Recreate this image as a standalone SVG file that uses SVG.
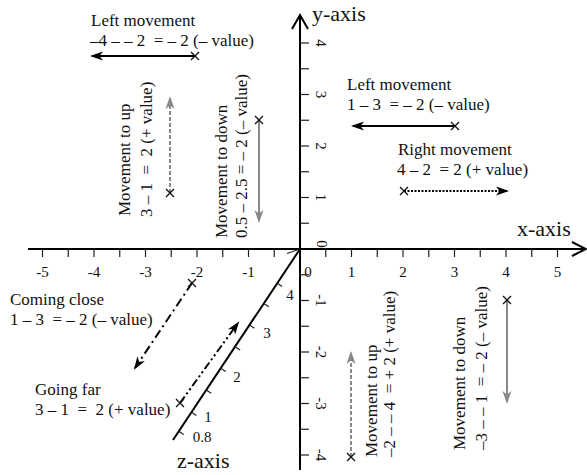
<svg xmlns="http://www.w3.org/2000/svg" width="587" height="475" viewBox="0 0 587 475">
<style>
text{font-family:"Liberation Serif","Times New Roman",serif;fill:#111;white-space:pre}
.lb{font-size:17px}
.ax{font-size:22px}
.num{font-size:15px}
.axis{stroke:#000;stroke-width:2;fill:none}
.tk{stroke:#222;stroke-width:1.2}
.blk{stroke:#000;stroke-width:2;fill:none}
.gry{stroke:#888;stroke-width:2;fill:none}
.xm{stroke:#111;stroke-width:1.3}
</style>
<defs>
<marker id="ahb" markerUnits="userSpaceOnUse" markerWidth="14" markerHeight="10" refX="11" refY="5" orient="auto"><path d="M0,0.5 L13,5 L0,9.5 L3.5,5 z" fill="#000"/></marker>
<marker id="ahg" markerUnits="userSpaceOnUse" markerWidth="14" markerHeight="10" refX="11" refY="5" orient="auto"><path d="M0,0.5 L13,5 L0,9.5 L3.5,5 z" fill="#888"/></marker>
</defs>
<rect width="587" height="475" fill="#fff"/>
<g id="axes">
<g id="x-axis">
<line class="axis" x1="28" y1="249" x2="585" y2="249"/>
<polyline class="axis" points="572,242 586,249 572,256"/>
<g class="tk">
<line x1="42.5" y1="249" x2="42.5" y2="257"/><line x1="68.25" y1="249" x2="68.25" y2="257"/><line x1="94" y1="249" x2="94" y2="257"/><line x1="119.75" y1="249" x2="119.75" y2="257"/><line x1="145.5" y1="249" x2="145.5" y2="257"/><line x1="171.25" y1="249" x2="171.25" y2="257"/><line x1="197" y1="249" x2="197" y2="257"/><line x1="222.75" y1="249" x2="222.75" y2="257"/><line x1="248.5" y1="249" x2="248.5" y2="257"/><line x1="274.25" y1="249" x2="274.25" y2="257"/>
<line x1="325.75" y1="249" x2="325.75" y2="257"/><line x1="351.5" y1="249" x2="351.5" y2="257"/><line x1="377.25" y1="249" x2="377.25" y2="257"/><line x1="403" y1="249" x2="403" y2="257"/><line x1="428.75" y1="249" x2="428.75" y2="257"/><line x1="454.5" y1="249" x2="454.5" y2="257"/><line x1="480.25" y1="249" x2="480.25" y2="257"/><line x1="506" y1="249" x2="506" y2="257"/><line x1="531.75" y1="249" x2="531.75" y2="257"/><line x1="557.5" y1="249" x2="557.5" y2="257"/>
</g>
<g class="num" text-anchor="middle">
<text x="42.5" y="277">-5</text><text x="94" y="277">-4</text><text x="145.5" y="277">-3</text><text x="197" y="277">-2</text><text x="248.5" y="277">-1</text><text x="308" y="277">0</text><text x="351.5" y="277">1</text><text x="403" y="277">2</text><text x="454.5" y="277">3</text><text x="506" y="277">4</text><text x="557.5" y="277">5</text>
</g>
<text class="ax" x="517" y="236">x-axis</text>
</g>
<g id="y-axis">
<line class="axis" x1="300" y1="16" x2="300" y2="470"/>
<polyline class="axis" points="292,29 300,15 308,29"/>
<g class="tk">
<line x1="301" y1="43" x2="309" y2="43"/><line x1="301" y1="68.75" x2="309" y2="68.75"/><line x1="301" y1="94.5" x2="309" y2="94.5"/><line x1="301" y1="120.25" x2="309" y2="120.25"/><line x1="301" y1="146" x2="309" y2="146"/><line x1="301" y1="171.75" x2="309" y2="171.75"/><line x1="301" y1="197.5" x2="309" y2="197.5"/><line x1="301" y1="223.25" x2="309" y2="223.25"/>
<line x1="301" y1="274.75" x2="309" y2="274.75"/><line x1="301" y1="300.5" x2="309" y2="300.5"/><line x1="301" y1="326.25" x2="309" y2="326.25"/><line x1="301" y1="352" x2="309" y2="352"/><line x1="301" y1="377.75" x2="309" y2="377.75"/><line x1="301" y1="403.5" x2="309" y2="403.5"/><line x1="301" y1="429.25" x2="309" y2="429.25"/><line x1="301" y1="455" x2="309" y2="455"/>
</g>
<g class="num" text-anchor="middle">
<text transform="translate(316,43) rotate(90)">4</text>
<text transform="translate(316,94.5) rotate(90)">3</text>
<text transform="translate(316,146) rotate(90)">2</text>
<text transform="translate(316,197.5) rotate(90)">1</text>
<text transform="translate(317,244) rotate(90)">0</text>
<text transform="translate(316,300.5) rotate(90)">-1</text>
<text transform="translate(316,352) rotate(90)">-2</text>
<text transform="translate(316,403.5) rotate(90)">-3</text>
<text transform="translate(316,455) rotate(90)">-4</text>
</g>
<text class="ax" x="312" y="21">y-axis</text>
</g>
<g id="z-axis">
<line class="axis" x1="300" y1="249" x2="173" y2="440"/>
<line class="tk" x1="287" y1="253.5" x2="300" y2="249"/>
<g class="tk">
<line x1="277.2" y1="283.3" x2="282.2" y2="286.6"/>
<line x1="263.8" y1="303.4" x2="268.8" y2="306.7"/>
<line x1="249.5" y1="325" x2="254.5" y2="328.3"/>
<line x1="235.1" y1="346.7" x2="240.1" y2="350"/>
<line x1="220.7" y1="368.3" x2="225.7" y2="371.6"/>
<line x1="206.2" y1="390" x2="211.2" y2="393.3"/>
<line x1="191.4" y1="412.3" x2="196.4" y2="415.6"/>
<line x1="178.8" y1="431.3" x2="183.8" y2="434.6"/>
</g>
<g class="num" text-anchor="middle">
<text x="290" y="300">4</text><text x="267" y="338">3</text><text x="237" y="382">2</text><text x="208" y="422">1</text><text x="202" y="442">0.8</text>
</g>
<text class="ax" x="177" y="468">z-axis</text>
</g>
</g>
<g id="connectors">
<line class="blk" x1="195" y1="56" x2="92" y2="56" marker-end="url(#ahb)"/>
<line class="blk" x1="455" y1="126" x2="353" y2="126" marker-end="url(#ahb)"/>
<line class="blk" x1="404" y1="191" x2="507" y2="191" stroke-dasharray="2,1.5" marker-end="url(#ahb)"/>
<line class="gry" x1="170" y1="193" x2="170" y2="98" stroke-width="1.6" stroke-dasharray="4,2" marker-end="url(#ahg)"/>
<line class="gry" x1="259" y1="120" x2="259" y2="221" marker-end="url(#ahg)"/>
<line class="gry" x1="351" y1="457" x2="351" y2="353" stroke-width="1.6" stroke-dasharray="4,2" marker-end="url(#ahg)"/>
<line class="gry" x1="507" y1="300" x2="507" y2="402" marker-end="url(#ahg)"/>
<line class="blk" x1="192" y1="283" x2="135" y2="368" stroke-dasharray="9,4,2,4" marker-end="url(#ahb)"/>
<line class="blk" x1="180" y1="403" x2="238" y2="323" stroke-dasharray="8,3,2,3,2,3" marker-end="url(#ahb)"/>
<g id="markers" class="xm">
<path d="M191,52 L199,60 M191,60 L199,52"/>
<path d="M451,122 L459,130 M451,130 L459,122"/>
<path d="M400,187 L408,195 M400,195 L408,187"/>
<path d="M166,189 L174,197 M166,197 L174,189"/>
<path d="M255,116 L263,124 M255,124 L263,116"/>
<path d="M347,453 L355,461 M347,461 L355,453"/>
<path d="M503,296 L511,304 M503,304 L511,296"/>
<path d="M188,279 L196,287 M188,287 L196,279"/>
<path d="M176,399 L184,407 M176,407 L184,399"/>
</g>
</g>
<g id="label-left-top" class="lb">
<text x="91" y="26">Left movement</text>
<text x="90" y="46">–4 – – 2  = – 2 (– value)</text>
</g>
<g id="label-left-right" class="lb">
<text x="347" y="90">Left movement</text>
<text x="347" y="110">1 – 3  = – 2 (– value)</text>
</g>
<g id="label-right" class="lb">
<text x="398" y="155">Right movement</text>
<text x="397" y="175">4 – 2  = 2 (+ value)</text>
</g>
<g id="label-up-left" class="lb">
<text transform="translate(130,216) rotate(-90)">Movement to up</text>
<text transform="translate(152,217) rotate(-90)">3 – 1  =  2 (+ value)</text>
</g>
<g id="label-down-left" class="lb">
<text transform="translate(227,238) rotate(-90)">Movement to down</text>
<text transform="translate(247,238) rotate(-90)">0.5 – 2.5 = – 2 (– value)</text>
</g>
<g id="label-up-right" class="lb">
<text transform="translate(377,457) rotate(-90)">Movement to up</text>
<text transform="translate(395,457) rotate(-90)">–2 – – 4  = + 2 (+ value)</text>
</g>
<g id="label-down-right" class="lb">
<text transform="translate(465,450) rotate(-90)">Movement to down</text>
<text transform="translate(487,450) rotate(-90)">–3 – – 1  = – 2 (– value)</text>
</g>
<g id="label-close" class="lb">
<text x="10" y="305">Coming close</text>
<text x="10" y="325">1 – 3  = – 2 (– value)</text>
</g>
<g id="label-far" class="lb">
<text x="35" y="395">Going far</text>
<text x="35" y="415">3 – 1  =  2 (+ value)</text>
</g>
</svg>
